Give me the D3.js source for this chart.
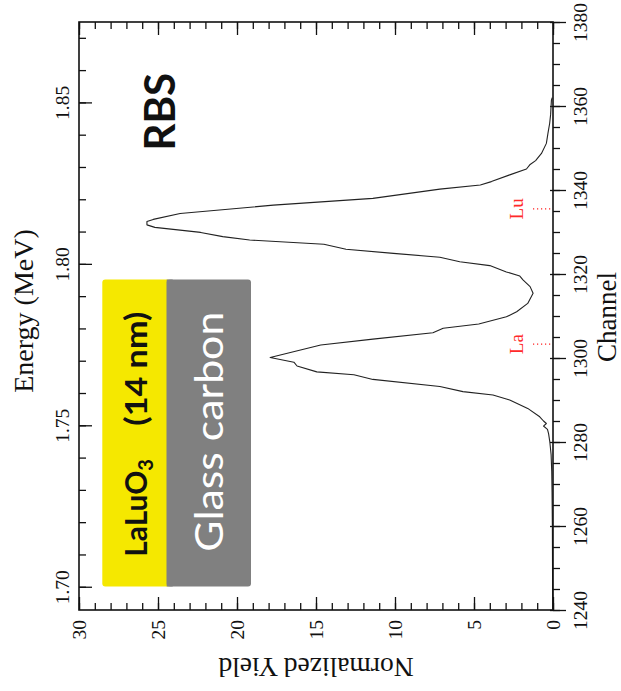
<!DOCTYPE html>
<html>
<head>
<meta charset="utf-8">
<script src="https://cdn.jsdelivr.net/npm/d3@7"></script>
<style>
  html, body { margin: 0; padding: 0; background: #fff; }
  svg { display: block; }
</style>
</head>
<body>
<svg id="chart" width="621" height="691"></svg>
<script>
// ---- data ----
const channels = [1240,1250,1260,1268,1273,1277,1280,1282,1283,1283.8,
  1284.4,1285,1286,1288,1290,1291.2,1292,1293.2,1294.9,1296,
  1296.7,1298.1,1299,1300.1,1303.1,1304.5,1306,1307.1,1308.1,1309.8,
  1311,1313,1315.4,1317,1318.6,1319.5,1320.5,1322,1322.9,1324,
  1324.9,1325.9,1327.1,1328.1,1328.9,1329.9,1331.1,1331.7,1332.5,1333,
  1334.4,1336.4,1338,1340.2,1341.2,1342,1343.6,1345,1346,1347,
  1348.7,1351.1,1353.5,1355.9,1358,1361.4,1362];
const yields = [0.02,0.03,0.04,0.06,0.08,0.12,0.2,0.28,0.35,0.6,
  0.42,0.6,0.84,1.6,2.74,3.8,5.7,7.16,11.4,12.6,
  14.95,16.2,16.4,17.9,14.7,11.4,7.6,6.95,4.7,2.95,
  2.3,1.6,1.26,1.45,1.9,2.1,2.95,4.0,5.9,7.16,
  10.1,13.1,14.5,19.2,20.9,22.3,25.2,25.7,25.7,25.3,
  23.6,17.7,11.4,7.16,4.6,3.9,2.74,1.68,1.47,1.1,
  0.73,0.42,0.32,0.21,0.15,0.1,0.05];

const yieldDomain = [0, 30];
const yieldTicks = [0, 5, 10, 15, 20, 25, 30];
const yieldMinorTicks = d3.range(0, 31, 1);
const channelDomain = [1240, 1380];
const channelTicks = [1240, 1260, 1280, 1300, 1320, 1340, 1360, 1380];
const channelMinorTicks = d3.range(1240, 1381, 5);
const energyDomain = [1.6928, 1.8749];
const energyTicks = [1.70, 1.75, 1.80, 1.85];
const energyMinorTicks = d3.range(170, 188, 1).map(v => v / 100);
const markerNames = ["La", "Lu"];
const markerChannels = [1303.3, 1335.5];

// ---- layout ----
const W = 621, H = 691;
const L = 79, R = 553, T = 22, B = 610;
const svg = d3.select("#chart");
const serif = "'Liberation Serif', 'Times New Roman', serif";
const sans = "Lato, 'Open Sans', sans-serif";

const xY = d3.scaleLinear().domain(yieldDomain).range([R, L]);
const yC = d3.scaleLinear().domain(channelDomain).range([B, T]);
const yE = d3.scaleLinear().domain(energyDomain).range([B, T]);

function styleAxis(g) {
  g.select(".domain").remove();
  g.selectAll("line").attr("stroke", "#111").attr("stroke-width", 1.3);
  g.attr("font-family", serif).attr("font-size", 19.5);
}

// bottom axis (yield) - inward ticks
svg.append("g").attr("transform", `translate(0,${B})`)
  .call(d3.axisBottom(xY).tickValues(yieldMinorTicks).tickSizeInner(-7).tickSizeOuter(0).tickFormat(""))
  .call(styleAxis);
svg.append("g").attr("transform", `translate(0,${B})`)
  .call(d3.axisBottom(xY).tickValues(yieldTicks).tickSizeInner(-13).tickSizeOuter(0).tickFormat(d3.format("d")))
  .call(styleAxis)
  .call(g => g.selectAll("text")
    .attr("y", null).attr("dy", null).attr("fill", "#111")
    .attr("transform", "translate(0,10) rotate(-90)")
    .attr("text-anchor", "end")
    .attr("dominant-baseline", "central"));

// top axis (yield) - inward, no labels
svg.append("g").attr("transform", `translate(0,${T})`)
  .call(d3.axisTop(xY).tickValues(yieldMinorTicks).tickSizeInner(-7).tickSizeOuter(0).tickFormat(""))
  .call(styleAxis);
svg.append("g").attr("transform", `translate(0,${T})`)
  .call(d3.axisTop(xY).tickValues(yieldTicks).tickSizeInner(-13).tickSizeOuter(0).tickFormat(""))
  .call(styleAxis);

// left axis (energy) - inward
svg.append("g").attr("transform", `translate(${L},0)`)
  .call(d3.axisLeft(yE).tickValues(energyMinorTicks).tickSizeInner(-7).tickSizeOuter(0).tickFormat(""))
  .call(styleAxis);
svg.append("g").attr("transform", `translate(${L},0)`)
  .call(d3.axisLeft(yE).tickValues(energyTicks).tickSizeInner(-13).tickSizeOuter(0).tickFormat(d3.format(".2f")))
  .call(styleAxis)
  .call(g => g.selectAll("text")
    .attr("x", null).attr("dy", null).attr("fill", "#111")
    .attr("transform", "translate(-10.5,0) rotate(-90)")
    .attr("text-anchor", "middle"));

// right axis (channel) - outward
svg.append("g").attr("transform", `translate(${R},0)`)
  .call(d3.axisRight(yC).tickValues(channelMinorTicks).tickSizeInner(7).tickSizeOuter(0).tickFormat(""))
  .call(styleAxis);
svg.append("g").attr("transform", `translate(${R - 3},0)`)
  .call(d3.axisRight(yC).tickValues(channelTicks).tickSizeInner(16).tickSizeOuter(0).tickFormat(d3.format("d")))
  .call(styleAxis)
  .call(g => g.selectAll("text")
    .attr("x", null).attr("dy", null).attr("fill", "#111")
    .attr("transform", "translate(37,0) rotate(-90)")
    .attr("text-anchor", "middle"));

// annotation boxes
const boxTop = 279.5, boxBot = 586.5;
svg.append("rect").attr("x", 102.3).attr("y", boxTop).attr("width", 68).attr("height", boxBot - boxTop)
  .attr("rx", 3).attr("fill", "#f5e800");
svg.append("rect").attr("x", 166.7).attr("y", boxTop).attr("width", 84.3).attr("height", boxBot - boxTop)
  .attr("rx", 3).attr("fill", "#808080");
svg.append("rect").attr("x", 166.7).attr("y", boxTop).attr("width", 6).attr("height", boxBot - boxTop)
  .attr("fill", "#808080");

const t1 = svg.append("text").attr("transform", "translate(146.5,556.7) rotate(-90)")
  .attr("font-family", sans).attr("font-weight", 700).attr("font-size", 30).attr("fill", "#111");
t1.append("tspan").attr("textLength", 86).attr("lengthAdjust", "spacingAndGlyphs").text("LaLuO");
t1.append("tspan").attr("font-size", 20).attr("dy", 6).text("3");
svg.append("text").attr("transform", "translate(146.5,311.7) rotate(-90)")
  .attr("text-anchor", "end")
  .attr("font-family", sans).attr("font-weight", 700).attr("font-size", 31).attr("fill", "#111")
  .attr("textLength", 114).attr("lengthAdjust", "spacingAndGlyphs")
  .text("(14 nm)");
svg.append("text").attr("transform", "translate(223,551.7) rotate(-90)")
  .attr("font-family", sans).attr("font-size", 39).attr("fill", "#fff")
  .attr("textLength", 240).attr("lengthAdjust", "spacingAndGlyphs")
  .text("Glass carbon");

// RBS
svg.append("text").attr("transform", "translate(175,111.7) rotate(-90)")
  .attr("text-anchor", "middle")
  .attr("font-family", sans).attr("font-weight", 700).attr("font-size", 42).attr("fill", "#111")
  .text("RBS");

// spectrum line
const pts = channels.map((c, i) => ({ c, v: yields[i] }));
svg.append("path").datum(pts)
  .attr("fill", "none").attr("stroke", "#222").attr("stroke-width", 1.1)
  .attr("stroke-linejoin", "round")
  .attr("d", d3.line().x(d => xY(d.v)).y(d => yC(d.c)));

// element markers
markerNames.forEach((name, i) => {
  const y = yC(markerChannels[i]);
  svg.append("line").attr("x1", R - 20).attr("x2", R).attr("y1", y).attr("y2", y)
    .attr("stroke", "#ff2020").attr("stroke-width", 1.2).attr("stroke-dasharray", "1.2,2.8");
  svg.append("text").attr("transform", `translate(523,${y}) rotate(-90)`)
    .attr("text-anchor", "middle").attr("font-family", serif).attr("font-size", 19)
    .attr("fill", "#ff2a2a").text(name);
});

// frame
svg.append("rect").attr("x", L).attr("y", T).attr("width", R - L).attr("height", B - T)
  .attr("fill", "none").attr("stroke", "#111").attr("stroke-width", 1.6);

// axis titles
svg.append("text").attr("transform", `translate(33,${(T + B) / 2 - 5}) rotate(-90)`)
  .attr("text-anchor", "middle").attr("font-family", serif).attr("font-size", 28).attr("fill", "#111")
  .text("Energy (MeV)");
svg.append("text").attr("transform", `translate(616,${(T + B) / 2 + 1}) rotate(-90)`)
  .attr("text-anchor", "middle").attr("font-family", serif).attr("font-size", 27).attr("fill", "#111")
  .text("Channel");
svg.append("text").attr("transform", `translate(${(L + R) / 2},658) rotate(180)`)
  .attr("text-anchor", "middle").attr("font-family", serif).attr("font-size", 27.5).attr("fill", "#111")
  .text("Normalized Yield");
</script>
</body>
</html>
